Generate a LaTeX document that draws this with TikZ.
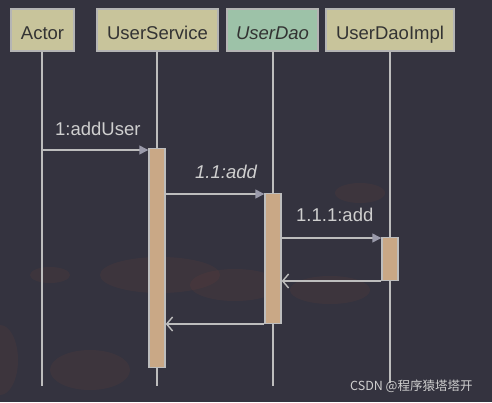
\documentclass[tikz,border=0pt]{standalone}
\usepackage{fontspec}
\setmainfont{Liberation Sans}
\newfontfamily\cjkfont{Noto Sans CJK SC}
\usetikzlibrary{arrows.meta}
\definecolor{bgcol}{HTML}{34333F}
\definecolor{boxfill}{HTML}{C8C49B}
\definecolor{daofill}{HTML}{9DC2A8}
\definecolor{boxline}{HTML}{B4B4B4}
\definecolor{txtdark}{HTML}{333333}
\definecolor{actfill}{HTML}{C9A886}
\definecolor{linecol}{HTML}{BDBDBD}
\definecolor{labcol}{HTML}{CFCFCF}
\definecolor{headcol}{HTML}{9A9AAA}
\definecolor{cloud}{HTML}{6A4038}
\tikzset{
  objbox/.style={draw=boxline, line width=1.6pt, fill=boxfill, text=txtdark, inner sep=0pt, text height=18pt, text depth=0pt, font=\fontsize{18.5}{20}\selectfont},
  actbox/.style={draw=linecol, line width=1.4pt, fill=actfill},
  lifeline/.style={draw=linecol, line width=1.4pt},
  callmsg/.style={draw=linecol, line width=1.4pt, -{Triangle[length=9pt,width=9pt,fill=headcol,color=headcol]}},
  retmsg/.style={draw=linecol, line width=1.4pt, -{Straight Barb[length=6pt,width=14pt,line width=1.4pt]}},
  msglabel/.style={text=labcol, inner sep=0pt, font=\fontsize{18.5}{20}\selectfont}
}
\begin{document}
\begin{tikzpicture}[x=1pt,y=-1pt]
\useasboundingbox (0,0) rectangle (492,402);
\fill[bgcol] (0,0) rectangle (492,402);
% faint reddish clouds in the background
\begin{scope}[opacity=0.18]
\fill[cloud] (160,275) ellipse (60 and 18);
\fill[cloud] (235,285) ellipse (45 and 16);
\fill[cloud] (50,275) ellipse (20 and 8);
\fill[cloud] (330,290) ellipse (40 and 14);
\fill[cloud] (360,193) ellipse (25 and 10);
\fill[cloud] (90,370) ellipse (40 and 20);
\fill[cloud] (0,360) ellipse (18 and 35);
\end{scope}

% objects
\node[objbox, minimum width=63pt, minimum height=42pt] (actor) at (42.5,30) {Actor};
\node[objbox, minimum width=121pt, minimum height=42pt] (svc) at (157.5,30) {UserService};
\node[objbox, fill=daofill, minimum width=91pt, minimum height=42pt] (dao) at (272.5,30) {\itshape UserDao};
\node[objbox, minimum width=128pt, minimum height=42pt] (impl) at (390,30) {UserDaoImpl};

% lifeline ends
\coordinate (actorEnd) at (42,386);
\coordinate (svcEnd) at (157,386);
\coordinate (daoEnd) at (273,386);
\coordinate (implEnd) at (390,383);

\draw[lifeline] (actor.south -| actorEnd) -- (actorEnd);
\draw[lifeline] (svc.south -| svcEnd) -- (svcEnd);
\draw[lifeline] (dao.south -| daoEnd) -- (daoEnd);
\draw[lifeline] (impl.south -| implEnd) -- (implEnd);

% activations
\node[actbox, minimum width=16pt, minimum height=219pt, inner sep=0pt, anchor=north] (aSvc) at (157,148) {};
\node[actbox, minimum width=16pt, minimum height=130pt, inner sep=0pt, anchor=north] (aDao) at (273,193) {};
\node[actbox, minimum width=16pt, minimum height=43pt, inner sep=0pt, anchor=north] (aImpl) at (390,237) {};

% messages
\coordinate (m1s) at (42,150);
\draw[callmsg] (m1s) -- (m1s -| aSvc.west);
\node[msglabel, anchor=base west] (l1) at (55,135) {1:addUser};

\coordinate (m2s) at (aSvc.east |- 0,194);
\draw[callmsg] (m2s) -- (m2s -| aDao.west);
\node[msglabel, anchor=base west] (l2) at (195,178) {\itshape 1.1:add};

\coordinate (m3s) at (aDao.east |- 0,238);
\draw[callmsg] (m3s) -- (m3s -| aImpl.west);
\node[msglabel, anchor=base west] (l3) at (296,221) {1.1.1:add};

\coordinate (r1s) at (aImpl.west |- 0,281);
\draw[retmsg] (r1s) -- (r1s -| aDao.east);

\coordinate (r2s) at (aDao.west |- 0,324);
\draw[retmsg] (r2s) -- (r2s -| aSvc.east);

% watermark
\node[text=labcol, inner sep=0pt, anchor=base west, font=\cjkfont\fontsize{12.5}{13}\selectfont] (wm) at (350,390) {CSDN @程序猿塔塔开};
\end{tikzpicture}
\end{document}
